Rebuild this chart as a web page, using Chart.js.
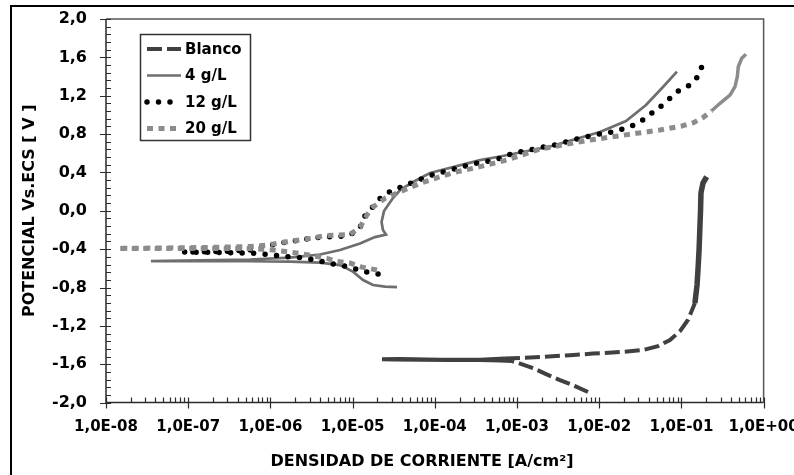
<!DOCTYPE html>
<html>
<head>
<meta charset="utf-8">
<script src="https://cdn.jsdelivr.net/npm/chart.js@4.4.1/dist/chart.umd.min.js"></script>
<style>
  html, body { margin: 0; padding: 0; background: #ffffff; }
  canvas { display: block; }
</style>
</head>
<body>
<canvas id="chart" width="794" height="475"></canvas>
<script>
// Polarization curves: current density [A/cm²] versus potential [V vs. ECS]
const seriesNames = ['Blanco', '4 g/L', '12 g/L', '20 g/L'];

const blancoI = [7.31e-3, 5.08e-3, 3.33e-3, 2.19e-3, 1.57e-3, 1.09e-3, 8.69e-4, 6.21e-4, 3.55e-4, 1.53e-4,
  6.61e-5, 3.28e-5, 2.28e-5, 3.78e-5, 1.16e-4, 3.55e-4, 5.40e-4, 7.14e-4, 1.09e-3, 2.07e-3,
  4.42e-3, 8.41e-3, 1.79e-2, 3.41e-2, 5.19e-2, 7.26e-2, 9.62e-2, 1.20e-1, 1.38e-1, 1.46e-1,
  1.55e-1, 1.59e-1, 1.64e-1, 1.68e-1, 1.71e-1, 1.73e-1, 1.83e-1, 2.03e-1];
const blancoE = [-1.890, -1.828, -1.765, -1.698, -1.640, -1.593, -1.567, -1.562, -1.557, -1.555,
  -1.553, -1.550, -1.549, -1.546, -1.552, -1.552, -1.546, -1.541, -1.534, -1.522,
  -1.505, -1.489, -1.473, -1.452, -1.411, -1.348, -1.254, -1.139, -1.014, -0.962,
  -0.774, -0.618, -0.409, -0.170, 0.008, 0.185, 0.289, 0.355];

const g4I = [3.47e-5, 2.48e-5, 1.77e-5, 1.34e-5, 1.01e-5, 7.03e-6, 4.01e-6, 1.73e-6, 5.65e-7, 1.39e-7,
  3.52e-8, 1.39e-7, 5.65e-7, 1.73e-6, 4.01e-6, 7.03e-6, 1.23e-5, 1.87e-5, 2.55e-5, 2.34e-5,
  2.25e-5, 2.41e-5, 3.10e-5, 3.78e-5, 5.43e-5, 8.75e-5, 3.55e-4, 6.21e-4, 2.52e-3, 1.02e-2,
  2.12e-2, 3.71e-2, 5.97e-2, 8.83e-2];
const g4E = [-0.795, -0.790, -0.774, -0.722, -0.634, -0.566, -0.540, -0.529, -0.526, -0.524,
  -0.524, -0.517, -0.508, -0.488, -0.456, -0.409, -0.342, -0.274, -0.248, -0.201,
  -0.117, -0.003, 0.133, 0.216, 0.300, 0.394, 0.529, 0.566, 0.670, 0.821,
  0.936, 1.103, 1.291, 1.452];

const g12I = [2.04e-5, 1.42e-5, 1.01e-5, 7.03e-6, 4.89e-6, 3.69e-6, 2.29e-6, 1.59e-6, 8.13e-7, 5.65e-7,
  2.44e-7, 8.65e-8, 2.44e-7, 5.65e-7, 8.13e-7, 1.31e-6, 2.29e-6, 4.37e-6, 6.64e-6, 9.29e-6,
  1.23e-5, 1.34e-5, 1.63e-5, 2.26e-5, 2.85e-5, 3.56e-5, 4.55e-5, 6.03e-5, 7.96e-5, 1.16e-4,
  1.66e-4, 2.33e-4, 3.24e-4, 4.70e-4, 6.76e-4, 8.93e-4, 1.32e-3, 1.91e-3, 2.52e-3, 3.50e-3,
  4.80e-3, 7.05e-3, 1.02e-2, 1.49e-2, 2.06e-2, 2.86e-2, 3.78e-2, 4.68e-2, 5.75e-2, 7.26e-2,
  9.16e-2, 1.21e-1, 1.61e-1, 1.73e-1, 1.79e-1];
const g12E = [-0.660, -0.636, -0.597, -0.566, -0.545, -0.514, -0.488, -0.479, -0.451, -0.441,
  -0.435, -0.430, -0.425, -0.409, -0.375, -0.336, -0.305, -0.271, -0.269, -0.253,
  -0.180, -0.076, 0.008, 0.147, 0.199, 0.234, 0.269, 0.313, 0.355, 0.397,
  0.432, 0.467, 0.495, 0.522, 0.557, 0.602, 0.626, 0.662, 0.675, 0.704,
  0.738, 0.772, 0.801, 0.825, 0.860, 0.905, 0.975, 1.040, 1.096, 1.173,
  1.249, 1.301, 1.405, 1.468, 1.531];

const g20I = [1.98e-5, 1.30e-5, 9.29e-6, 6.46e-6, 4.89e-6, 2.29e-6, 1.08e-6, 5.65e-7, 1.39e-7, 3.43e-8,
  1.40e-8, 3.43e-8, 1.39e-7, 5.65e-7, 9.02e-7, 1.58e-6, 3.30e-6, 4.61e-6, 6.64e-6, 9.29e-6,
  1.23e-5, 1.49e-5, 1.79e-5, 2.48e-5, 4.72e-5, 6.61e-5, 1.16e-4, 1.85e-4, 2.92e-4, 4.28e-4,
  7.50e-4, 1.91e-3, 7.73e-3, 2.86e-2, 5.50e-2, 1.01e-1, 1.40e-1, 1.85e-1, 2.34e-1, 2.95e-1,
  3.90e-1, 4.49e-1, 4.79e-1, 4.92e-1, 5.42e-1, 6.11e-1];
const g20E = [-0.618, -0.587, -0.545, -0.529, -0.496, -0.444, -0.409, -0.394, -0.392, -0.392,
  -0.392, -0.389, -0.383, -0.373, -0.357, -0.323, -0.284, -0.258, -0.253, -0.248,
  -0.173, -0.044, 0.042, 0.130, 0.234, 0.286, 0.355, 0.407, 0.443, 0.477,
  0.529, 0.644, 0.738, 0.808, 0.842, 0.884, 0.918, 0.975, 1.044, 1.121,
  1.207, 1.294, 1.398, 1.502, 1.590, 1.632];

const xTickValues = [1e-8, 1e-7, 1e-6, 1e-5, 1e-4, 1e-3, 1e-2, 1e-1, 1];
const xTickLabels = ['1,0E-08', '1,0E-07', '1,0E-06', '1,0E-05', '1,0E-04', '1,0E-03', '1,0E-02', '1,0E-01', '1,0E+00'];
const yTickValues = [-2.0, -1.6, -1.2, -0.8, -0.4, 0.0, 0.4, 0.8, 1.2, 1.6, 2.0];
const yTickLabels = ['-2,0', '-1,6', '-1,2', '-0,8', '-0,4', '0,0', '0,4', '0,8', '1,2', '1,6', '2,0'];

const xTitle = 'DENSIDAD DE CORRIENTE [A/cm²]';
const yTitle = 'POTENCIAL Vs.ECS [ V ]';

const FONT = '"DejaVu Sans", "Open Sans", sans-serif';

function points(xs, ys) {
  return xs.map((v, i) => ({ x: v, y: ys[i] }));
}

// Axis frame, tick marks, titles, legend box and outer border
const decorations = {
  id: 'decorations',
  beforeDraw(chart) {
    const { ctx, width, height } = chart;
    ctx.save();
    ctx.fillStyle = '#ffffff';
    ctx.fillRect(0, 0, width, height);
    ctx.restore();
  },
  beforeDatasetsDraw(chart) {
    const { ctx, chartArea: a } = chart;
    ctx.save();
    ctx.strokeStyle = '#555555';
    ctx.lineWidth = 1.5;
    ctx.beginPath();
    ctx.moveTo(a.left, a.top);
    ctx.lineTo(a.right, a.top);
    ctx.lineTo(a.right, a.bottom);
    ctx.stroke();
    ctx.restore();
  },
  afterDatasetsDraw(chart) {
    const { ctx, chartArea: a, scales: { x, y } } = chart;
    ctx.save();
    ctx.strokeStyle = '#2b2b2b';
    ctx.lineWidth = 1.5;
    // axis lines
    ctx.beginPath();
    ctx.moveTo(a.left, a.top);
    ctx.lineTo(a.left, a.bottom);
    ctx.lineTo(a.right, a.bottom);
    ctx.stroke();

    // y ticks: major every 0.4, minor every 0.08
    ctx.lineWidth = 1.2;
    ctx.beginPath();
    for (let k = 0; k <= 50; k++) {
      const v = -2 + k * 0.08;
      const py = Math.round(y.getPixelForValue(v)) + 0.5;
      const major = k % 5 === 0;
      ctx.moveTo(a.left - (major ? 6 : 0), py);
      ctx.lineTo(a.left + 5, py);
    }
    // x ticks: decades crossing the axis, minors 2..9 inside
    for (let d = -8; d <= 0; d++) {
      const px = Math.round(x.getPixelForValue(Math.pow(10, d))) + 0.5;
      ctx.moveTo(px, a.bottom - 5);
      ctx.lineTo(px, a.bottom + 6);
      if (d < 0) {
        for (let m = 2; m <= 9; m++) {
          const pm = Math.round(x.getPixelForValue(m * Math.pow(10, d))) + 0.5;
          ctx.moveTo(pm, a.bottom - 5);
          ctx.lineTo(pm, a.bottom);
        }
      }
    }
    ctx.stroke();

    // axis titles
    ctx.fillStyle = '#000000';
    ctx.font = 'bold 16px ' + FONT;
    ctx.textAlign = 'center';
    ctx.textBaseline = 'middle';
    ctx.fillText(xTitle, 422, 462);
    ctx.save();
    ctx.translate(30, (a.top + a.bottom) / 2);
    ctx.rotate(-Math.PI / 2);
    ctx.fillText(yTitle, 0, 0);
    ctx.restore();

    // legend
    const box = { x: 140.5, y: 34.5, w: 110, h: 106 };
    ctx.strokeStyle = '#333333';
    ctx.lineWidth = 1.5;
    ctx.strokeRect(box.x, box.y, box.w, box.h);
    const rows = [49, 75.5, 102, 128.5];
    ctx.font = 'bold 15px ' + FONT;
    ctx.textAlign = 'left';
    chart.data.datasets.forEach((ds, i) => {
      const ry = rows[i];
      ctx.save();
      ctx.strokeStyle = ds.borderColor;
      ctx.lineWidth = ds.borderWidth;
      ctx.lineCap = ds.borderCapStyle || 'butt';
      ctx.setLineDash(ds.borderDash || []);
      ctx.beginPath();
      ctx.moveTo(147, ry);
      ctx.lineTo(181, ry);
      ctx.stroke();
      ctx.restore();
      ctx.fillStyle = '#000000';
      ctx.fillText(ds.label, 185, ry + 1);
    });

    // outer border of the figure
    ctx.strokeStyle = '#000000';
    ctx.lineWidth = 2;
    ctx.strokeRect(11, 6, 900, 600);
    ctx.restore();
  }
};

const lineBase = { showLine: true, pointRadius: 0, pointHoverRadius: 0, tension: 0, fill: false };

new Chart(document.getElementById('chart'), {
  type: 'scatter',
  data: {
    datasets: [
      Object.assign({}, lineBase, {
        label: seriesNames[0], data: points(blancoI, blancoE),
        borderColor: '#404040', borderWidth: 4, borderDash: [15, 5], borderCapStyle: 'butt', order: 3,
        segment: {
          borderDash: c => (Math.max(c.p0.parsed.x, c.p1.parsed.x) < 9.5e-4 || Math.min(c.p0.parsed.y, c.p1.parsed.y) > -0.98) ? [] : undefined,
          borderWidth: c => Math.min(c.p0.parsed.y, c.p1.parsed.y) > -0.98 ? 5.5 : undefined
        }
      }),
      Object.assign({}, lineBase, {
        label: seriesNames[1], data: points(g4I, g4E),
        borderColor: '#6e6e6e', borderWidth: 2.7, borderDash: [], order: 2
      }),
      Object.assign({}, lineBase, {
        label: seriesNames[2], data: points(g12I, g12E),
        borderColor: '#000000', borderWidth: 5.5, borderDash: [0, 11.5], borderCapStyle: 'round', order: 1
      }),
      Object.assign({}, lineBase, {
        label: seriesNames[3], data: points(g20I, g20E),
        borderColor: '#8c8c8c', borderWidth: 5, borderDash: [6, 5.5], borderCapStyle: 'butt', order: 0,
        segment: {
          borderDash: c => Math.min(c.p0.parsed.y, c.p1.parsed.y) > 1.0 ? [] : undefined,
          borderWidth: c => Math.min(c.p0.parsed.y, c.p1.parsed.y) > 1.0 ? 3.5 : undefined
        }
      })
    ]
  },
  options: {
    responsive: false,
    animation: false,
    devicePixelRatio: 1,
    events: [],
    layout: { padding: { top: 19, right: 30.4, left: 0, bottom: 0 } },
    plugins: { legend: { display: false }, tooltip: { enabled: false } },
    scales: {
      x: {
        type: 'logarithmic', position: 'bottom', min: 1e-8, max: 1,
        afterBuildTicks: s => { s.ticks = xTickValues.map(v => ({ value: v })); },
        afterFit: s => { s.height = 72.4; s.paddingLeft = 0; s.paddingRight = 0; },
        grid: { display: false, drawTicks: false },
        border: { display: false },
        ticks: {
          autoSkip: false, maxRotation: 0, minRotation: 0, padding: 16, color: '#000000',
          font: { family: FONT, weight: 'bold', size: 15 },
          callback: (v, i) => xTickLabels[i]
        }
      },
      y: {
        type: 'linear', min: -2, max: 2,
        afterBuildTicks: s => { s.ticks = yTickValues.map(v => ({ value: v })); },
        afterFit: s => { s.width = 106; s.paddingTop = 0; s.paddingBottom = 0; },
        grid: { display: false, drawTicks: false },
        border: { display: false },
        ticks: {
          padding: 19, color: '#000000',
          font: { family: FONT, weight: 'bold', size: 16 },
          callback: (v, i) => yTickLabels[i]
        }
      }
    }
  },
  plugins: [decorations]
});
</script>
</body>
</html>
